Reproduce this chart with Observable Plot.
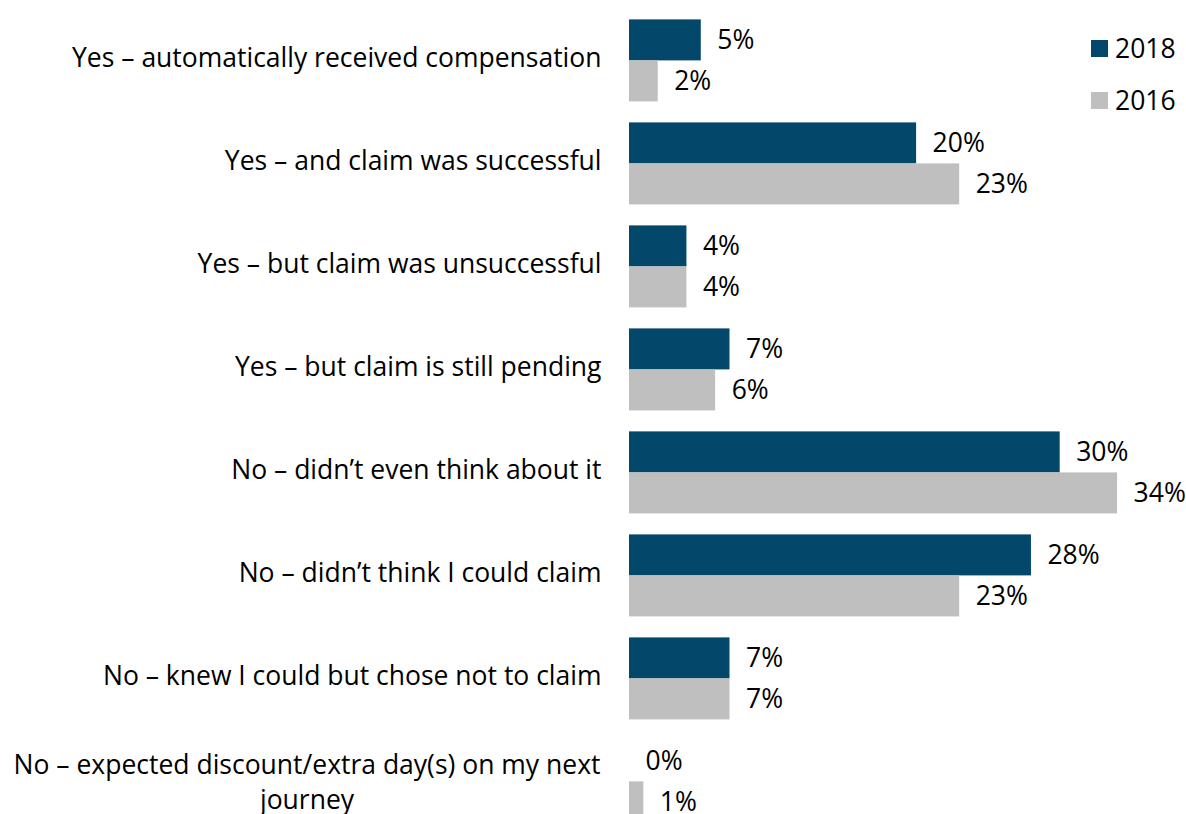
<!DOCTYPE html>
<html>
<head>
<meta charset="utf-8">
<script src="https://cdn.jsdelivr.net/npm/d3@7"></script>
<script src="https://cdn.jsdelivr.net/npm/@observablehq/plot@0.6"></script>
<style>
  html, body { margin: 0; padding: 0; background: #fff; overflow: hidden; }
  #wrap { position: relative; width: 1186px; height: 814px; font-family: "Open Sans", sans-serif; }
  #legend { position: absolute; left: 1091px; top: 29px; font-size: 26.5px; color: #000; }
  .item { display: flex; align-items: center; height: 38px; margin-bottom: 14px; }
  .sw { width: 17px; height: 17px; margin-right: 7px; }
</style>
</head>
<body>
<div id="wrap"><div id="chart"></div><div id="legend"></div></div>
<script>
const categories = [
  "Yes – automatically received compensation",
  "Yes – and claim was successful",
  "Yes – but claim was unsuccessful",
  "Yes – but claim is still pending",
  "No – didn’t even think about it",
  "No – didn’t think I could claim",
  "No – knew I could but chose not to claim",
  "No – expected discount/extra day(s) on my next journey"
];
const categoryLines = [
  "Yes – automatically received compensation",
  "Yes – and claim was successful",
  "Yes – but claim was unsuccessful",
  "Yes – but claim is still pending",
  "No – didn’t even think about it",
  "No – didn’t think I could claim",
  "No – knew I could but chose not to claim",
  "No – expected discount/extra day(s) on my next\njourney"
];
const years = ["2018", "2016"];
const values2018 = [5, 20, 4, 7, 30, 28, 7, 0];
const values2016 = [2, 23, 4, 6, 34, 23, 7, 1];
const colors = ["#03476b", "#bfbfbf"];

const data = [];
categories.forEach((c, i) => {
  data.push({category: c, year: "2018", value: values2018[i]});
  data.push({category: c, year: "2016", value: values2016[i]});
});
const labels = categories.map((c, i) => ({category: c, text: categoryLines[i]}));
const singleLabels = labels.filter(d => !d.text.includes("\n"));
const wrappedLabels = labels.filter(d => d.text.includes("\n"));

const chart = Plot.plot({
  width: 1186,
  height: 814,
  marginLeft: 629,
  marginRight: 0,
  marginTop: 6.6,
  marginBottom: -21.2,
  style: {fontFamily: "Open Sans, sans-serif", fontSize: "26.5px", color: "#000", background: "#fff"},
  x: {domain: [0, 38.8], axis: null},
  y: {domain: years, axis: null, padding: 0},
  fy: {domain: categories, axis: null, paddingInner: 0.2, paddingOuter: 0.1},
  color: {domain: years, range: colors},
  marks: [
    Plot.barX(data, {fy: "category", y: "year", x: "value", fill: "year"}),
    Plot.text(data, {fy: "category", y: "year", x: "value", text: d => d.value + "%", textAnchor: "start", dx: 16, fill: "#000", fontSize: 26.5}),
    Plot.text(singleLabels, {fy: "category", frameAnchor: "left", text: "text", textAnchor: "end", dx: -28, dy: -1.5, fill: "#000", fontSize: 26.5}),
    Plot.text(wrappedLabels, {fy: "category", frameAnchor: "left", text: "text", textAnchor: "middle", dx: -322.5, dy: -1, lineHeight: 1.32, fill: "#000", fontSize: 26.5})
  ]
});
document.getElementById("chart").appendChild(chart);

const legend = document.getElementById("legend");
years.forEach((y, i) => {
  const item = document.createElement("div");
  item.className = "item";
  const sw = document.createElement("div");
  sw.className = "sw";
  sw.style.background = colors[i];
  const t = document.createElement("span");
  t.textContent = y;
  item.appendChild(sw);
  item.appendChild(t);
  legend.appendChild(item);
});
</script>
</body>
</html>
